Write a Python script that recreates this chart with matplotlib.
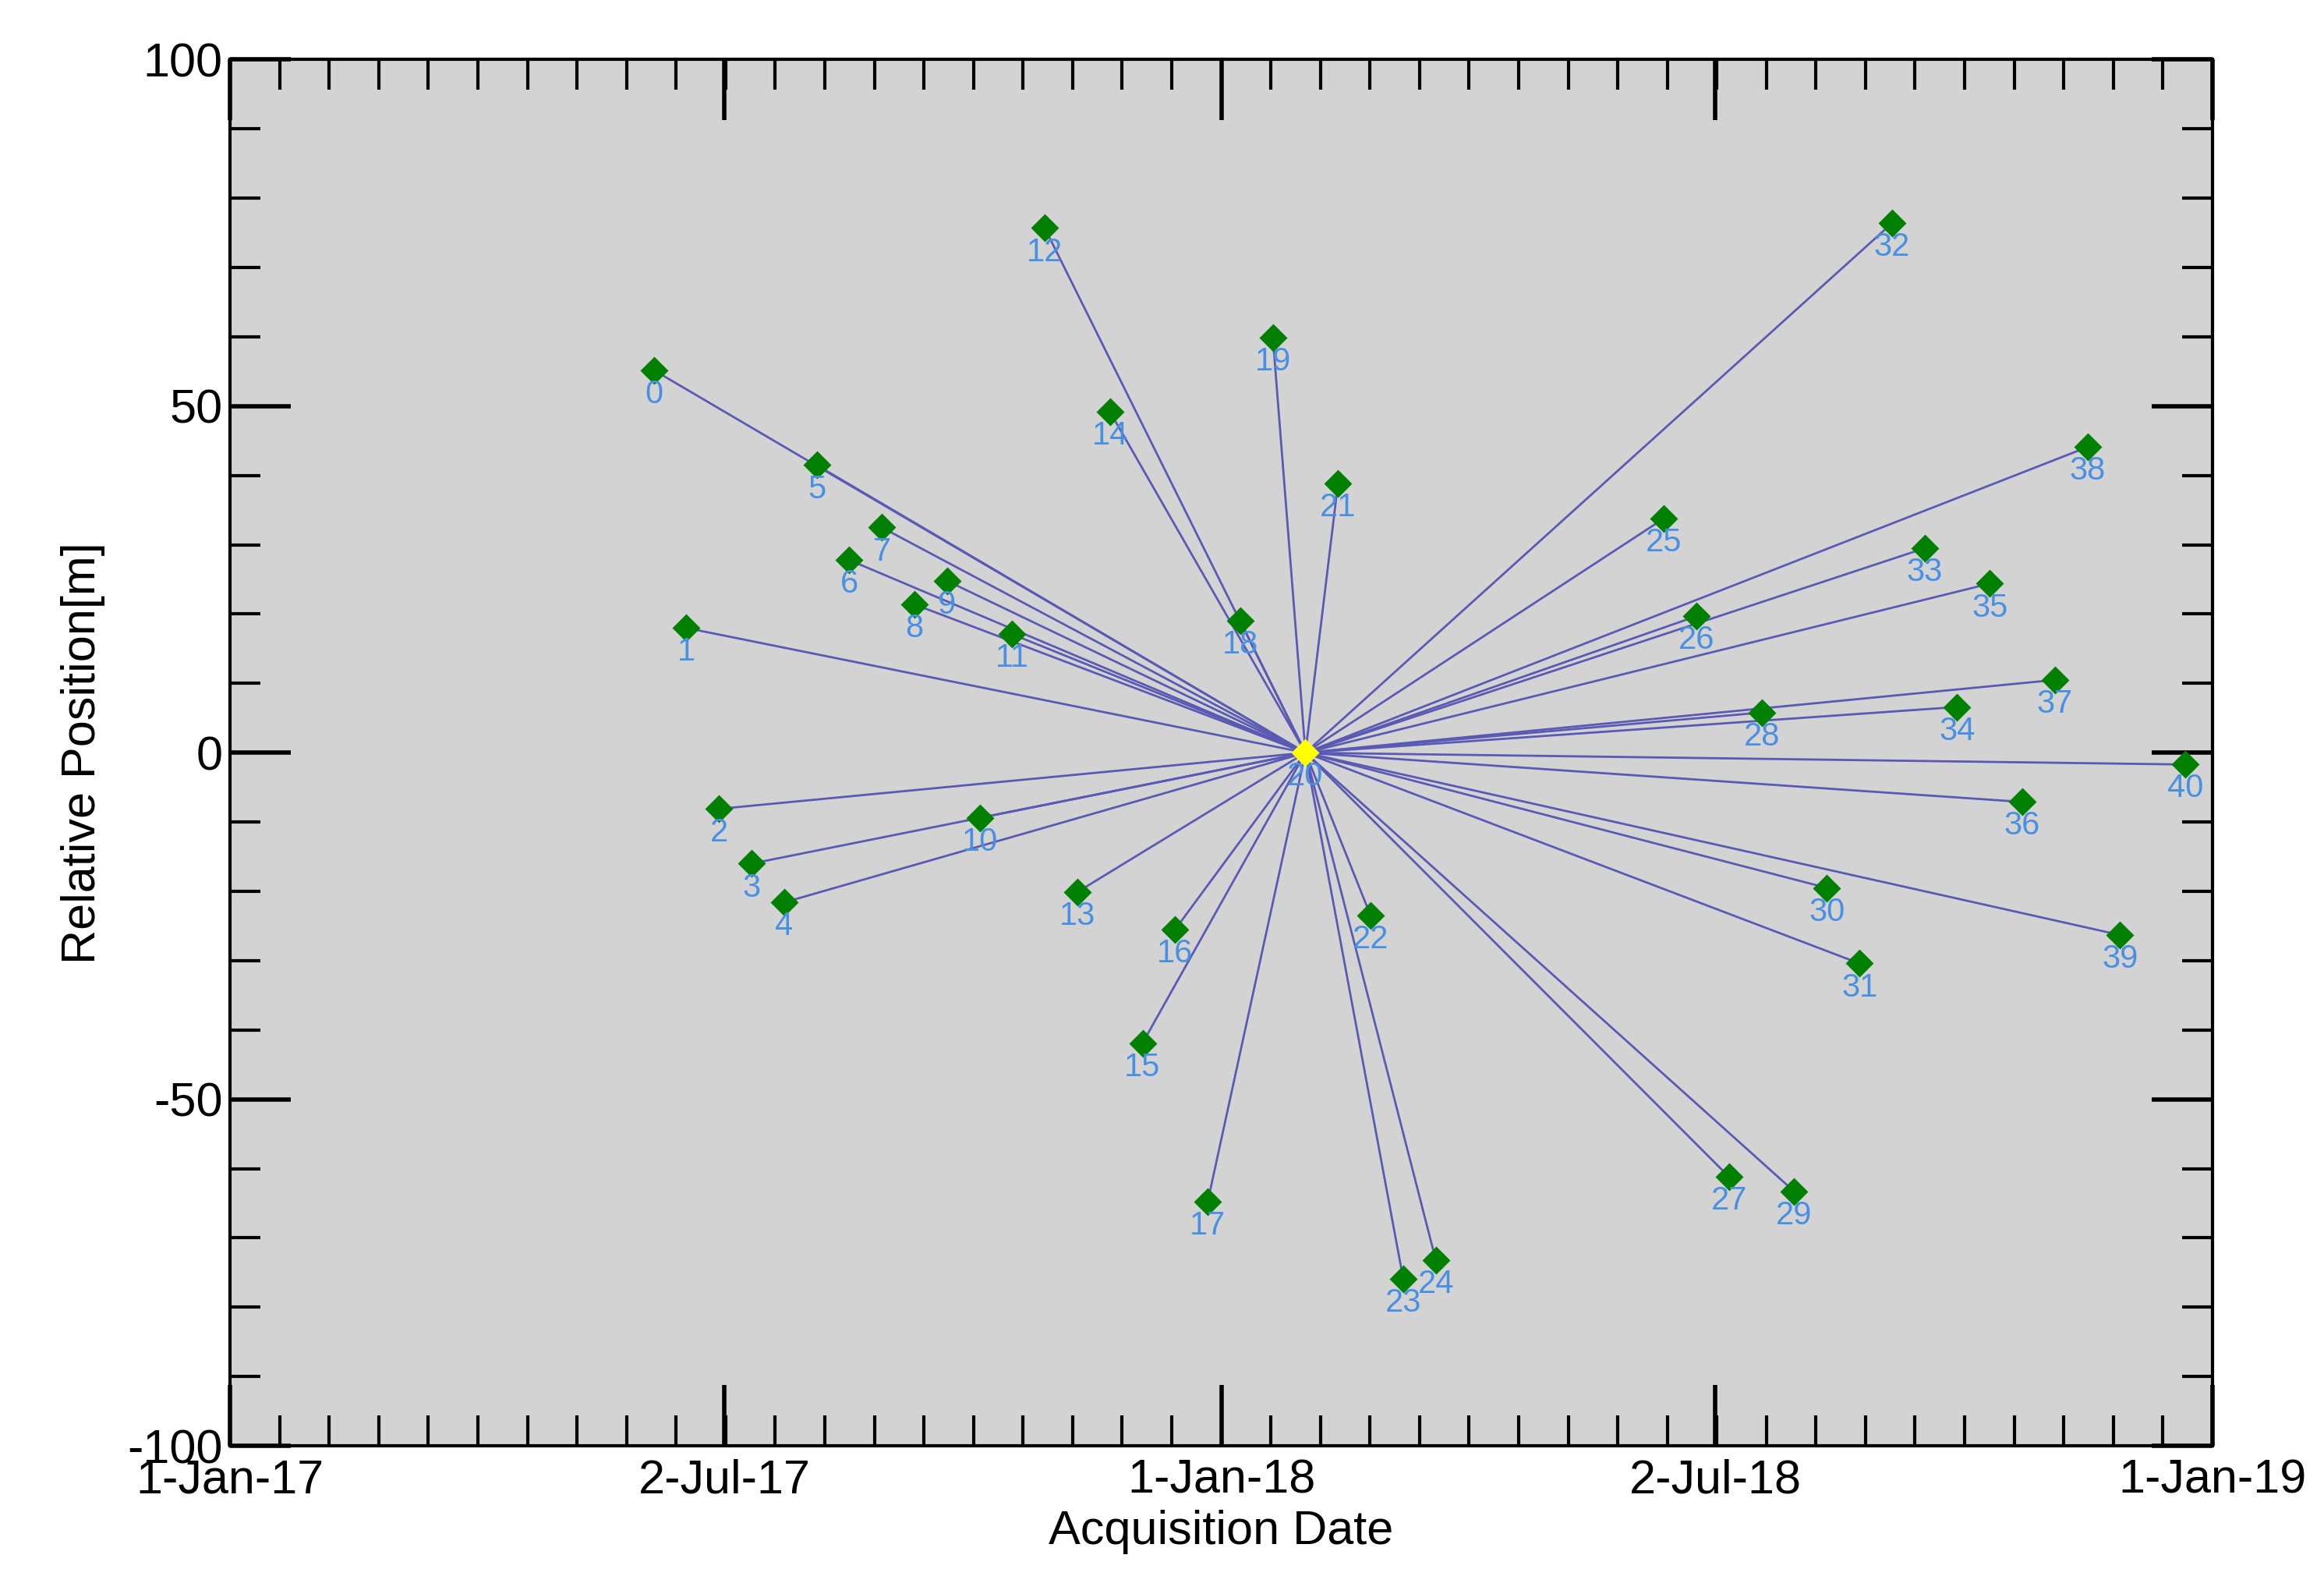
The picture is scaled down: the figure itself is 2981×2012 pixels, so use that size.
import numpy as np
import matplotlib
matplotlib.use("Agg")
import matplotlib.pyplot as plt
import matplotlib.dates as mdates
from matplotlib.ticker import MultipleLocator
import datetime as dt

plt.rcParams['font.family'] = ['Liberation Sans', 'DejaVu Sans']
plt.rcParams['axes.unicode_minus'] = False

# acquisition offsets (days after 1-Jan-2017) and relative positions [m]
day_offsets = [156, 168, 180, 192, 204, 216, 228, 240, 252, 264, 276, 288, 300,
               312, 324, 336, 348, 360, 372, 384, 396, 408, 420, 432, 444,
               528, 540, 552, 564, 576, 588, 600, 612, 624, 636, 648, 660,
               672, 684, 696, 720]
positions = [55.2, 18.0, -8.1, -16.0, -21.6, 41.5, 27.8, 32.5, 21.4, 24.8,
             -9.4, 17.1, 75.7, -20.1, 49.2, -41.9, -25.5, -64.8, 19.0, 59.9,
             0.0, 38.9, -23.5, -75.9, -73.2, 33.8, 19.7, -61.2, 5.8, -63.3,
             -19.5, -30.4, 76.4, 29.5, 6.6, 24.4, -7.1, 10.5, 44.1, -26.3, -1.7]
ref_index = 20

base = dt.datetime(2017, 1, 1)
dates = [base + dt.timedelta(days=d) for d in day_offsets]
xnum = mdates.date2num(dates)
ys = np.array(positions)

fig = plt.figure(figsize=(14.905, 10.06), dpi=200)
ax = fig.add_axes([0.099, 0.0785, 0.853, 0.8835])
ax.set_facecolor("#d3d3d3")

xr, yr = xnum[ref_index], ys[ref_index]
for i, (x, y) in enumerate(zip(xnum, ys)):
    if i == ref_index:
        continue
    ax.plot([xr, x], [yr, y], color="#5a5ab4", lw=1.0, zorder=2)

others = [i for i in range(len(ys)) if i != ref_index]
ax.plot(xnum[others], ys[others], "D", color="#008000", ms=8, zorder=3)
ax.plot([xr], [yr], "D", color="#ffff00", ms=8, zorder=4)
for i, (x, y) in enumerate(zip(xnum, ys)):
    ax.annotate(str(i), (x, y), xytext=(0, -4), textcoords="offset points",
                ha="center", va="top", color="#4a90e2", fontsize=15, zorder=5)

ax.set_xlim(mdates.date2num(dt.datetime(2017, 1, 1)), mdates.date2num(dt.datetime(2019, 1, 1)))
ax.set_ylim(-100, 100)
major = [dt.datetime(2017, 1, 1), dt.datetime(2017, 7, 2), dt.datetime(2018, 1, 1),
         dt.datetime(2018, 7, 2), dt.datetime(2019, 1, 1)]
ax.set_xticks(mdates.date2num(major))
ax.set_xticklabels(["1-Jan-17", "2-Jul-17", "1-Jan-18", "2-Jul-18", "1-Jan-19"])
x0, x1 = ax.get_xlim()
ax.set_xticks(np.linspace(x0, x1, 41), minor=True)
ax.yaxis.set_major_locator(MultipleLocator(50))
ax.yaxis.set_minor_locator(MultipleLocator(10))
ax.tick_params(which="both", direction="in", top=True, right=True, labelsize=22, width=1.5)
ax.tick_params(which="major", length=28, width=2)
ax.tick_params(which="minor", length=14)
ax.tick_params(axis="x", pad=6)
for s in ax.spines.values():
    s.set_linewidth(1.5)
ax.set_xlabel("Acquisition Date", fontsize=22, labelpad=3)
ax.set_ylabel("Relative Position[m]", fontsize=22, labelpad=10)

fig.savefig("out.png", dpi=200)
